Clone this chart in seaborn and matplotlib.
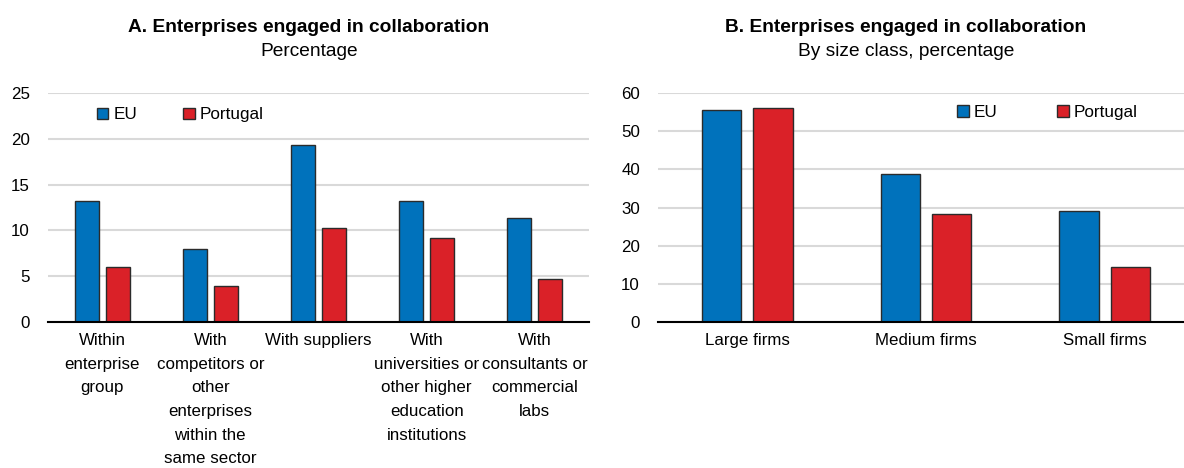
import matplotlib
matplotlib.use("Agg")
import matplotlib.pyplot as plt
import numpy as np
import pandas as pd
import seaborn as sns

# Panel A data: type of collaboration
partners = ["Within enterprise group", "With competitors", "With suppliers",
            "With universities", "With consultants"]
partner_labels = ["Within\nenterprise\ngroup",
                  "With\ncompetitors or\nother\nenterprises\nwithin the\nsame sector",
                  "With suppliers",
                  "With\nuniversities or\nother higher\neducation\ninstitutions",
                  "With\nconsultants or\ncommercial\nlabs"]
eu_partner = [13.2, 8.0, 19.3, 13.2, 11.4]
pt_partner = [6.0, 3.9, 10.3, 9.2, 4.7]

# Panel B data: size class
sizes = ["Large firms", "Medium firms", "Small firms"]
eu_size = [55.5, 38.9, 29.0]
pt_size = [56.2, 28.4, 14.5]

series_names = ["EU", "Portugal"]
colors = {"EU": "#0072bc", "Portugal": "#da2128"}

sns.set_style("white")
plt.rcParams["font.family"] = ["Liberation Sans", "DejaVu Sans"]
plt.rcParams["font.size"] = 12
plt.rcParams["text.color"] = "black"
plt.rcParams["xtick.color"] = "black"
plt.rcParams["ytick.color"] = "black"

W, H = 1184, 468
fig = plt.figure(figsize=(W / 100, H / 100), dpi=100)


def px_axes(left, right, top, bottom):
    return fig.add_axes([left / W, 1 - bottom / H, (right - left) / W, (bottom - top) / H])


def draw_panel(ax, cats, labels, eu, pt, ymax, ystep, leg_x, leg_y, colspace):
    df = pd.DataFrame({
        "cat": cats * 2,
        "series": [series_names[0]] * len(cats) + [series_names[1]] * len(cats),
        "value": eu + pt,
    })
    sns.barplot(data=df, x="cat", y="value", hue="series", order=cats,
                hue_order=series_names, palette=colors, width=0.574, gap=0.23,
                edgecolor="#2b2b2b", linewidth=1.0, saturation=1, ax=ax, zorder=3)
    n = len(cats)
    ax.set_xlim(-0.5, n - 0.5)
    ax.set_ylim(0, ymax)
    ax.set_yticks(np.arange(0, ymax + 0.1, ystep))
    ax.set_xticks(range(n))
    ax.set_xticklabels(labels, linespacing=1.72)
    ax.set_xticks(np.arange(-0.5, n, 1), minor=True)
    ax.tick_params(axis="x", which="major", length=0, pad=8, labelsize=12.2)
    ax.tick_params(axis="x", which="minor", direction="in", length=5, width=1.2, color="black")
    ax.tick_params(axis="y", length=0, pad=13, labelsize=12.2)
    ax.set_xlabel("")
    ax.set_ylabel("")
    ax.grid(axis="y", color="#d9d9d9", linewidth=1.5, zorder=0)
    ax.set_axisbelow(True)
    for s in ["left", "right", "top"]:
        ax.spines[s].set_visible(False)
    ax.spines["bottom"].set_color("black")
    ax.spines["bottom"].set_linewidth(1.5)
    ax.spines["bottom"].set_zorder(4)
    handles, labs = ax.get_legend_handles_labels()
    ax.legend(handles, labs, loc="center left", bbox_to_anchor=(leg_x, leg_y),
              ncol=2, frameon=False, fontsize=12.3, handlelength=0.67,
              handleheight=0.67, handletextpad=0.3, columnspacing=colspace,
              borderpad=0, borderaxespad=0)


ax_a = px_axes(48, 589, 93, 322)
draw_panel(ax_a, partners, partner_labels, eu_partner, pt_partner, 25, 5,
           0.0906, 0.904, 2.7)

ax_b = px_axes(658, 1194, 93, 322)
draw_panel(ax_b, sizes, sizes, eu_size, pt_size, 60, 10, 0.558, 0.915, 3.5)

fig.text(309 / W, 1 - 32 / H, "A. Enterprises engaged in collaboration",
         ha="center", va="baseline", fontsize=13.8, fontweight="bold")
fig.text(309 / W, 1 - 56 / H, "Percentage", ha="center", va="baseline", fontsize=13.8)
fig.text(906 / W, 1 - 32 / H, "B. Enterprises engaged in collaboration",
         ha="center", va="baseline", fontsize=13.8, fontweight="bold")
fig.text(906 / W, 1 - 56 / H, "By size class, percentage", ha="center",
         va="baseline", fontsize=13.8)

fig.savefig("out.png", dpi=100)
